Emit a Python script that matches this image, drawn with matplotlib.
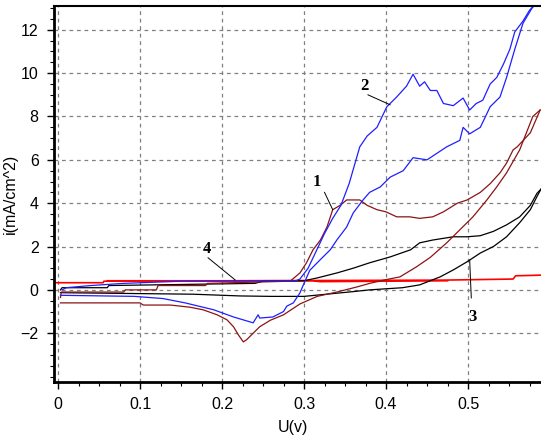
import numpy as np
import matplotlib
matplotlib.use('Agg')
from matplotlib import pyplot as plt

# curve 1 (dark red) - forward scan then reverse scan
c1_fwd_x = [0.003, 0.004, 0.02, 0.08, 0.082, 0.12, 0.122, 0.18, 0.182, 0.283, 0.295, 0.303, 0.311, 0.32,
            0.328, 0.335, 0.344, 0.352, 0.368, 0.377, 0.389, 0.40, 0.413, 0.429, 0.441, 0.457, 0.47,
            0.487, 0.499, 0.515, 0.527, 0.539, 0.547, 0.555, 0.56, 0.576, 0.588]
c1_fwd_y = [-0.35, -0.1, -0.1, -0.1, 0.0, 0.0, 0.2, 0.2, 0.3, 0.4, 0.78, 1.25, 1.85, 2.3,
            2.9, 3.7, 3.9, 4.15, 4.15, 3.9, 3.7, 3.6, 3.37, 3.37, 3.3, 3.37, 3.6,
            4.0, 4.15, 4.5, 4.9, 5.4, 5.85, 6.46, 6.6, 7.25, 8.3]
c1_rev_x = [0.588, 0.579, 0.563, 0.547, 0.535, 0.523, 0.506, 0.49, 0.474, 0.454, 0.437, 0.417, 0.397,
            0.38, 0.365, 0.34, 0.316, 0.295, 0.275, 0.259, 0.246, 0.238, 0.23, 0.226, 0.22, 0.214,
            0.206, 0.194, 0.177, 0.161, 0.137, 0.104, 0.10, 0.003]
c1_rev_y = [8.3, 8.0, 6.46, 5.4, 4.75, 4.15, 3.37, 2.77, 2.17, 1.5, 1.06, 0.6, 0.45,
            0.3, 0.14, -0.1, -0.3, -0.65, -1.15, -1.4, -1.7, -2.0, -2.3, -2.4, -2.08, -1.7,
            -1.38, -1.15, -0.92, -0.8, -0.7, -0.7, -0.6, -0.6]

# curve 2 (blue)
c2_fwd_x = [0.005, 0.01, 0.04, 0.08, 0.15, 0.29, 0.295, 0.305, 0.315, 0.325, 0.335, 0.345, 0.355,
            0.368, 0.377, 0.389, 0.401, 0.413, 0.425, 0.433, 0.441, 0.447, 0.454, 0.462, 0.47,
            0.482, 0.494, 0.502, 0.51, 0.518, 0.527, 0.535, 0.543, 0.551, 0.557, 0.567, 0.575, 0.585]
c2_fwd_y = [0.0, 0.1, 0.2, 0.3, 0.4, 0.42, 0.5, 1.0, 1.8, 2.6, 3.3, 3.9, 4.9,
            6.6, 7.1, 7.5, 8.45, 8.9, 9.4, 9.95, 9.4, 9.6, 9.2, 9.2, 8.6,
            8.5, 8.85, 8.3, 8.6, 8.75, 9.5, 9.8, 10.4, 11.1, 11.9, 12.4, 12.9, 13.3]
c2_rev_x = [0.585, 0.578, 0.567, 0.557, 0.547, 0.539, 0.527, 0.515, 0.502, 0.494, 0.49, 0.474,
            0.462, 0.45, 0.433, 0.421, 0.405, 0.393, 0.38, 0.372, 0.36, 0.352, 0.34, 0.332,
            0.32, 0.307, 0.30, 0.295, 0.287, 0.279, 0.275, 0.262, 0.246, 0.244, 0.238, 0.214,
            0.19, 0.155, 0.128, 0.093, 0.003]
c2_rev_y = [13.3, 13.0, 12.3, 11.1, 9.8, 8.9, 8.45, 7.5, 7.2, 7.5, 6.9, 6.6,
            6.3, 6.0, 6.1, 5.5, 5.2, 4.75, 4.5, 4.15, 3.55, 2.9, 2.3, 1.85,
            1.4, 0.9, 0.3, -0.14, -0.6, -0.75, -1.0, -1.25, -1.3, -1.15, -1.52, -1.25,
            -0.92, -0.6, -0.4, -0.3, -0.25]

# curve 3 (black)
c3_fwd_x = [0.003, 0.005, 0.06, 0.062, 0.24, 0.25, 0.30, 0.316, 0.34, 0.36, 0.38, 0.405, 0.43,
            0.441, 0.457, 0.482, 0.499, 0.515, 0.531, 0.547, 0.563, 0.576, 0.584, 0.589]
c3_fwd_y = [0.0, 0.1, 0.1, 0.2, 0.3, 0.4, 0.42, 0.55, 0.78, 1.0, 1.25, 1.52, 1.85,
            2.17, 2.3, 2.45, 2.45, 2.5, 2.7, 3.0, 3.37, 3.9, 4.45, 4.65]
c3_rev_x = [0.589, 0.584, 0.576, 0.563, 0.547, 0.531, 0.515, 0.499, 0.482, 0.466, 0.441, 0.42,
            0.38, 0.36, 0.30, 0.26, 0.222, 0.165, 0.003]
c3_rev_y = [4.65, 4.3, 3.7, 3.1, 2.45, 2.0, 1.7, 1.3, 0.92, 0.6, 0.23, 0.1,
            0.0, -0.08, -0.3, -0.3, -0.28, -0.2, -0.13]

# curve 4 (red)
c4_fwd_x = [-0.004, 0.055, 0.056, 0.47, 0.555, 0.558, 0.59]
c4_fwd_y = [0.33, 0.33, 0.4, 0.45, 0.5, 0.65, 0.68]
c4_rev_x = [0.475, 0.32, 0.31, 0.06]
c4_rev_y = [0.42, 0.38, 0.42, 0.42]

# curve labels: text, text position, leader start, leader end
labels = ['1', '2', '3', '4']
label_xy = [(0.316, 5.0), (0.374, 9.4), (0.506, -1.25), (0.182, 1.9)]
leader_from = [(0.325, 4.5), (0.378, 9.0), (0.502, 1.38), (0.183, 1.48)]
leader_to = [(0.335, 3.7), (0.405, 8.54), (0.504, -0.37), (0.216, 0.46)]

x_ticks = [0, 0.1, 0.2, 0.3, 0.4, 0.5]
x_tick_labels = ['0', '0.1', '0.2', '0.3', '0.4', '0.5']
y_ticks = [-2, 0, 2, 4, 6, 8, 10, 12]

plt.rcParams['font.family'] = ['Liberation Sans', 'DejaVu Sans']

fig = plt.figure(figsize=(5.41, 4.45), dpi=100)
ax = fig.add_axes([0.0998, 0.1416, 0.9002, 0.845])

dark_red = '#8b1414'
blue = '#1f1fff'
ax.plot(c4_fwd_x, c4_fwd_y, color='#ff0000', lw=1.2)
ax.plot(c4_rev_x, c4_rev_y, color='#ff0000', lw=1.2)
ax.plot(c3_fwd_x, c3_fwd_y, color='black', lw=0.9)
ax.plot(c3_rev_x, c3_rev_y, color='black', lw=0.9)
ax.plot(c1_fwd_x, c1_fwd_y, color=dark_red, lw=0.9)
ax.plot(c1_rev_x, c1_rev_y, color=dark_red, lw=0.9)
ax.plot(c2_fwd_x, c2_fwd_y, color=blue, lw=0.9)
ax.plot(c2_rev_x, c2_rev_y, color=blue, lw=0.9)

for lab, pos, p0, p1 in zip(labels, label_xy, leader_from, leader_to):
    ax.text(pos[0], pos[1], lab, ha='center', va='center', fontsize=12,
            fontweight='bold', family='Liberation Serif')
    ax.plot([p0[0], p1[0]], [p0[1], p1[1]], color='black', lw=0.7)

ax.set_xlim(-0.0049, 0.589)
ax.set_ylim(-4.25, 13.1)
ax.set_xticks(x_ticks)
ax.set_xticklabels(x_tick_labels)
ax.set_yticks(y_ticks)
ax.set_xticks(np.arange(0, 0.59, 0.025), minor=True)
ax.set_yticks(np.arange(-4, 13.1, 0.5), minor=True)
ax.tick_params(which='major', length=5, width=1, labelsize=11.5, pad=6)
ax.tick_params(which='minor', length=3, width=0.8)
ax.grid(True, which='major', color='#808080', linestyle=(0, (3, 3)), lw=0.9)

for side in ['left', 'bottom']:
    ax.spines[side].set_linewidth(2)
ax.spines['top'].set_linewidth(1.5)
ax.spines['right'].set_visible(False)

ax.set_xlabel('U(v)', fontsize=11.5)
ax.set_ylabel('i(mA/cm^2)', fontsize=11.5)
ax.xaxis.set_label_coords(0.49, -0.1)
ax.yaxis.set_label_coords(-0.075, 0.5)

fig.savefig('out.png', dpi=100)
